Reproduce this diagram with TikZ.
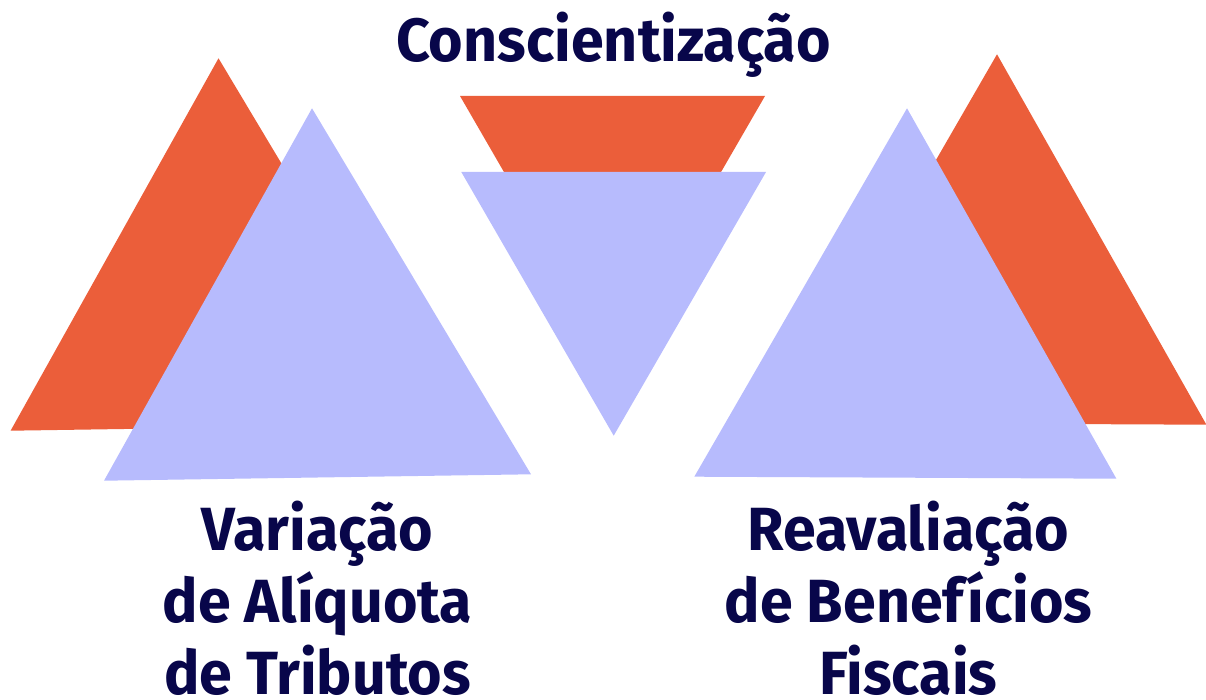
\documentclass[tikz,border=0pt]{standalone}
\usepackage{fontspec}
\setmainfont[FakeStretch=0.97]{Fira Sans}
\definecolor{triorange}{HTML}{EB5E3A}
\definecolor{trililac}{HTML}{B7BBFD}
\definecolor{textnavy}{HTML}{08064A}
\tikzset{captiontext/.style={text=textnavy, font=\fontsize{61}{72}\selectfont\bfseries, align=center, inner sep=0pt}}

\begin{document}
\begin{tikzpicture}[x=1pt, y=-1pt]
		%%%%% START %%%%%
		
		\clip (0, 0) rectangle (1206, 700);
		
		% left pair
		\fill[color=triorange] (218.5, 58.3) -- (10.6, 430.7) -- (437.5, 424.3) -- cycle;
		\fill[color=trililac] (312, 108.3) -- (104, 480.7) -- (531, 474.3) -- cycle;
		
		% middle pair, upside down
		\fill[color=triorange] (460, 96) -- (765, 96) -- (612.5, 359.7) -- cycle;
		\fill[color=trililac] (461.3, 172) -- (766, 172) -- (613.7, 435.7) -- cycle;
		
		% right pair
		\fill[color=triorange] (997, 54.3) -- (784.3, 422.7) -- (1206.4, 424.7) -- cycle;
		\fill[color=trililac] (907, 108.3) -- (694.3, 476.7) -- (1116.4, 478.7) -- cycle;
		
		\node[captiontext, anchor=base] (conscientizacao) at (613.5, 62) {Conscientização};
		\node[captiontext, anchor=base] (variacao) at (317.5, 694) {Variação\\de Alíquota\\de Tributos};
		\node[captiontext, anchor=base] (reavaliacao) at (908.5, 694) {Reavaliação\\de Benefícios\\Fiscais};
		
		%%%%% END %%%%%
	\end{tikzpicture}
\end{document}
